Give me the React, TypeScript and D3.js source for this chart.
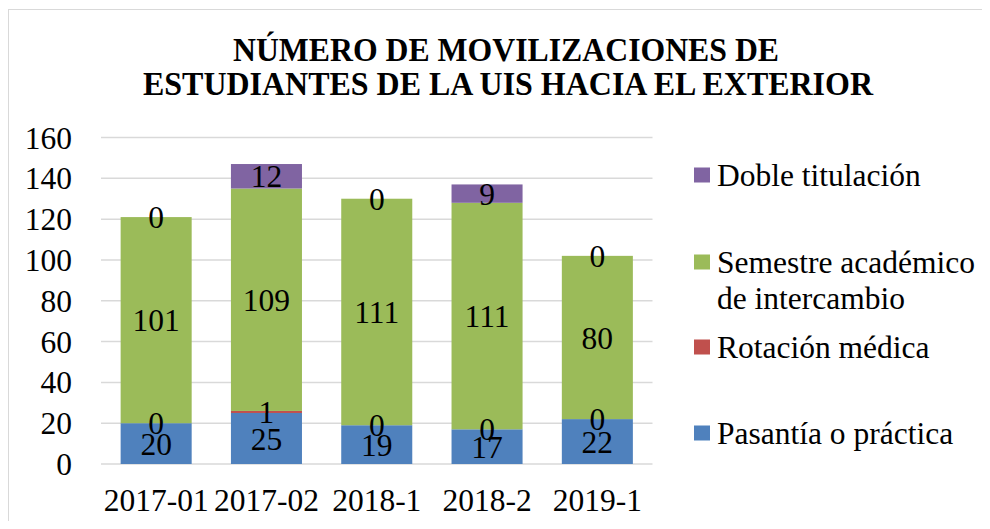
import React from 'react';
import * as d3 from 'd3';

const categories = ['2017-01', '2017-02', '2018-1', '2018-2', '2019-1'];
const pasantia = [20, 25, 19, 17, 22];
const rotacion = [0, 1, 0, 0, 0];
const semestre = [101, 109, 111, 111, 80];
const doble = [0, 12, 0, 9, 0];
const yTicks = [0, 20, 40, 60, 80, 100, 120, 140, 160];

const seriesKeys = ['pasantia', 'rotacion', 'semestre', 'doble'];
const colors = ['#4F81BD', '#C0504D', '#9BBB59', '#8064A2'];

const W = 990;
const H = 529;
const ff = `'Liberation Serif', monospace`;
const fs = 31.5;

function App() {
  const rows = categories.map((c, i) => ({
    cat: c,
    pasantia: pasantia[i],
    rotacion: rotacion[i],
    semestre: semestre[i],
    doble: doble[i],
  }));
  const stacked = d3.stack<any>().keys(seriesKeys)(rows);

  const x = d3.scaleBand().domain(categories).range([101, 652.5]).paddingInner(0.356).paddingOuter(0.178);
  const y = d3.scaleLinear().domain([0, 160]).range([464, 137.5]);

  // legend layout (top to bottom, reversed series order)
  const legend = [
    { idx: 3, lines: ['Doble titulación'], y: 175 },
    { idx: 2, lines: ['Semestre académico', 'de intercambio'], y: 262 },
    { idx: 1, lines: ['Rotación médica'], y: 347 },
    { idx: 0, lines: ['Pasantía o práctica'], y: 433 },
  ];

  return (
    <svg width={W} height={H} style={{ display: 'block', margin: -8 }}>
      <rect x={8.5} y={9.5} width={W} height={H} fill="#fff" stroke="#D9D9D9" />
      <text x={506} y={61} textAnchor="middle" fontSize={33} fontWeight="bold" style={{ fontFamily: ff }} textLength={546} lengthAdjust="spacingAndGlyphs">
        NÚMERO DE MOVILIZACIONES DE
      </text>
      <text x={508} y={95} textAnchor="middle" fontSize={33} fontWeight="bold" style={{ fontFamily: ff }} textLength={730} lengthAdjust="spacingAndGlyphs">
        ESTUDIANTES DE LA UIS HACIA EL EXTERIOR
      </text>

      {yTicks.map(t => (
        <g key={t}>
          <line x1={101} x2={652.5} y1={y(t)} y2={y(t)} stroke="#D9D9D9" strokeWidth={1.5} />
          <text x={72} y={y(t)} dy="0.35em" textAnchor="end" fontSize={fs} style={{ fontFamily: ff }}>{t}</text>
        </g>
      ))}

      {stacked.map((s, si) => (
        <g key={s.key} fill={colors[si]}>
          {s.map((d, i) => (
            <rect key={i} x={x(categories[i])} y={y(d[1])} width={x.bandwidth()} height={y(d[0]) - y(d[1])} />
          ))}
        </g>
      ))}

      {stacked.map((s, si) => (
        <g key={s.key + 'l'}>
          {s.map((d, i) => (
            <text key={i} x={(x(categories[i]) as number) + x.bandwidth() / 2} y={y((d[0] + d[1]) / 2)} dy="0.35em" textAnchor="middle" fontSize={fs} style={{ fontFamily: ff }}>
              {d[1] - d[0]}
            </text>
          ))}
        </g>
      ))}

      {categories.map(c => (
        <text key={c} x={(x(c) as number) + x.bandwidth() / 2} y={511} textAnchor="middle" fontSize={fs} style={{ fontFamily: ff }}>{c}</text>
      ))}

      {legend.map(l => (
        <g key={l.idx}>
          <rect x={694} y={l.y - 7.5} width={16} height={15} fill={colors[l.idx]} />
          {l.lines.map((ln, k) => (
            <text key={k} x={717} y={l.y + k * 36} dy="0.35em" fontSize={fs} style={{ fontFamily: ff }}>{ln}</text>
          ))}
        </g>
      ))}
    </svg>
  );
}

export default App;
